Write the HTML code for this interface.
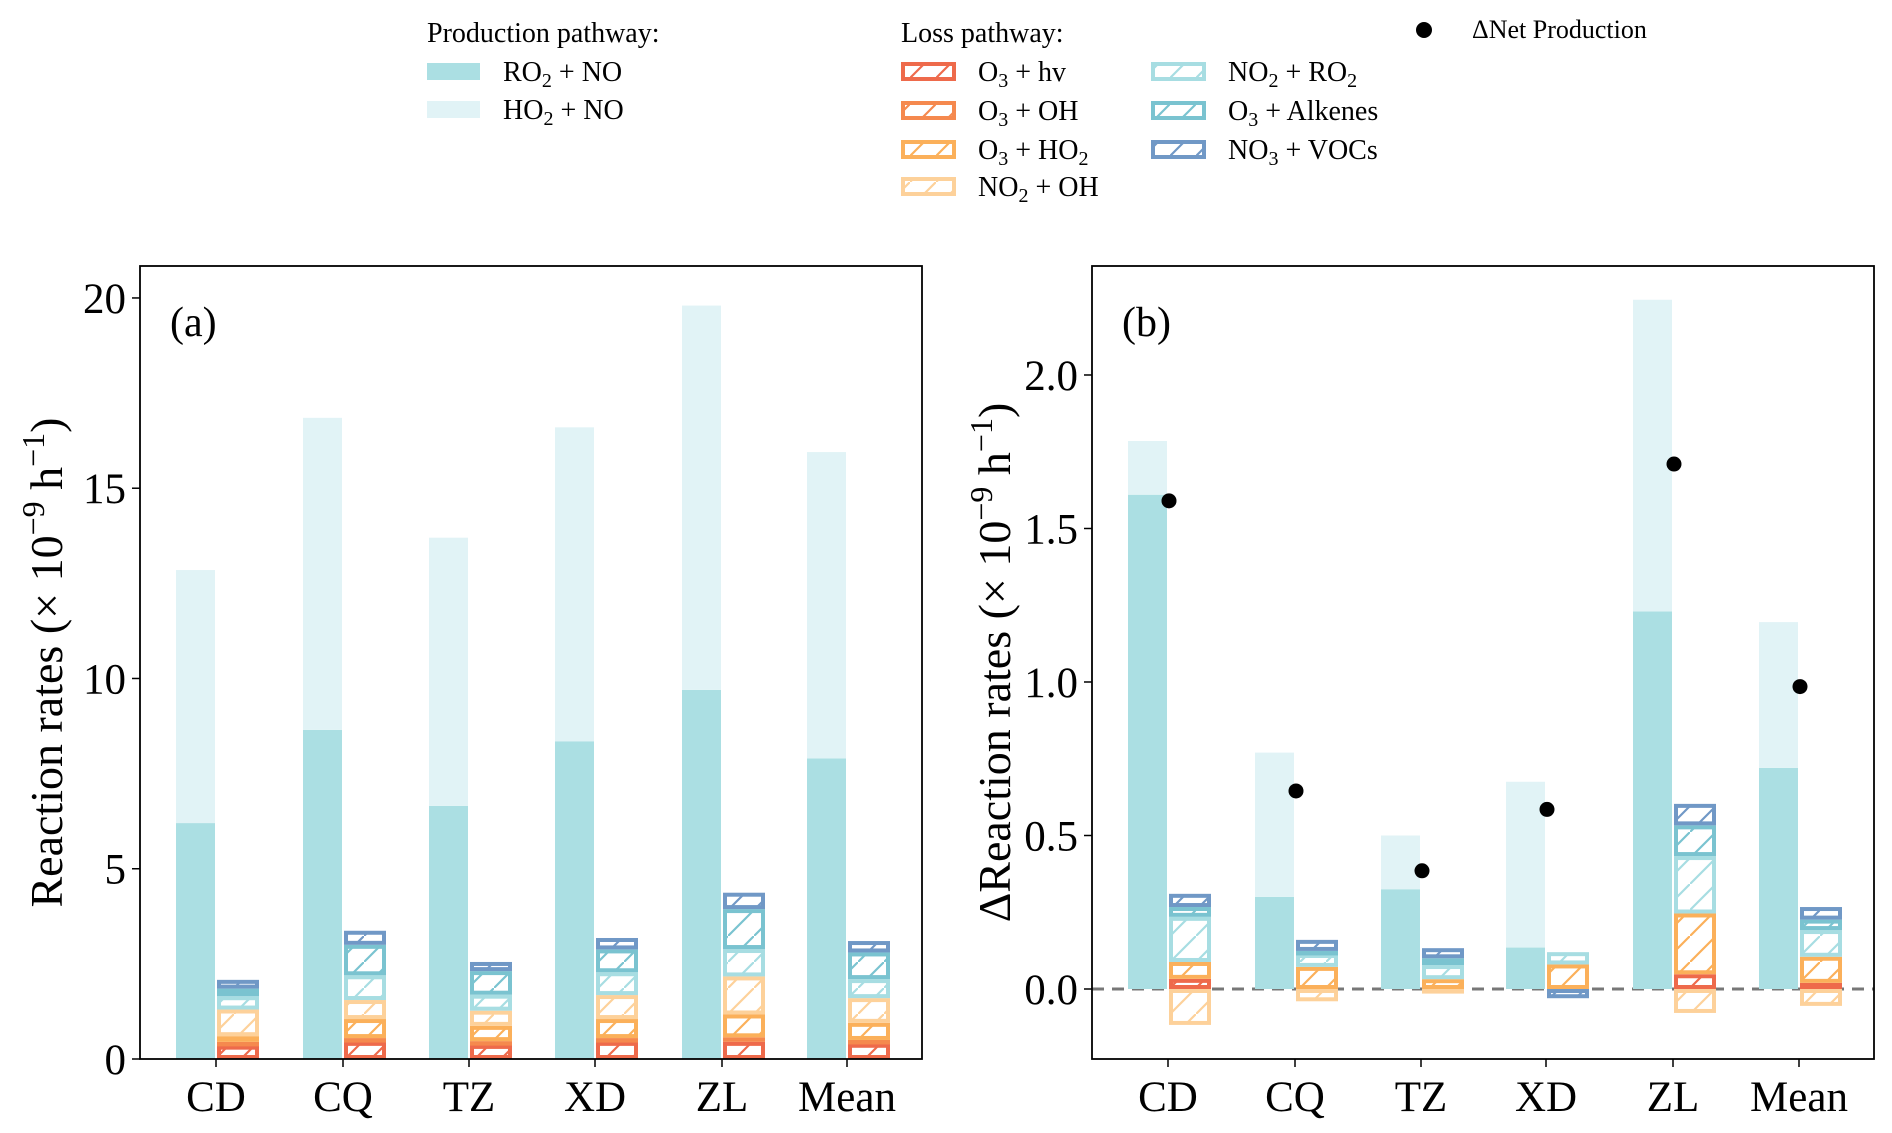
<!DOCTYPE html>
<html><head><meta charset="utf-8"><style>
html,body{margin:0;padding:0;background:#fff}
svg{display:block;font-family:"Liberation Serif",serif}
</style></head><body>
<svg id="chart" width="1892" height="1133" viewBox="0 0 1892 1133" xmlns="http://www.w3.org/2000/svg">
<defs id="defs"></defs>
<g id="legend" font-size="28">
  <text x="427" y="42">Production pathway:</text>
  <rect x="427" y="63" width="53" height="17" fill="#abdfe3"/>
  <text x="503" y="81">RO<tspan font-size="20" dy="6">2</tspan><tspan dy="-6"> + NO</tspan></text>
  <rect x="427" y="101" width="53" height="17" fill="#e1f3f6"/>
  <text x="503" y="119">HO<tspan font-size="20" dy="6">2</tspan><tspan dy="-6"> + NO</tspan></text>
  <text x="901" y="42">Loss pathway:</text>
  <circle cx="1424" cy="30" r="8" fill="#000"/>
  <text x="1472" y="38" font-size="26">ΔNet Production</text>
</g>
<g id="panelA"></g>
<g id="panelB"></g>
</svg>
<script>
const NS='http://www.w3.org/2000/svg';
const sites=['CD','CQ','TZ','XD','ZL','Mean'];
const lossNames=['O3 + hv','O3 + OH','O3 + HO2','NO2 + OH','NO2 + RO2','O3 + Alkenes','NO3 + VOCs'];
const lossColors=['#ee6a4b','#f5894e','#fbb05a','#fdd19a','#a7dde2','#7ac3d0','#7098c6'];
const prodColors=['#abdfe3','#e1f3f6'];
// Panel a
const aRO2=[6.2,8.65,6.65,8.35,9.7,7.9];
const aHO2=[6.65,8.2,7.05,8.25,10.1,8.05];
const aHv=[0.35,0.45,0.37,0.45,0.45,0.4];
const aOH=[0.1,0.1,0.1,0.1,0.12,0.1];
const aHO2loss=[0.15,0.5,0.4,0.5,0.6,0.45];
const aNO2OH=[0.7,0.5,0.4,0.63,1.0,0.65];
const aNO2RO2=[0.35,0.65,0.42,0.6,0.72,0.5];
const aAlk=[0.2,0.8,0.62,0.6,1.05,0.7];
const aVOC=[0.23,0.37,0.24,0.3,0.43,0.3];
const aTicks=[0,5,10,15,20];
const aTickLabels=['0','5','10','15','20'];
// Panel b
const bRO2=[1.61,0.30,0.325,0.135,1.23,0.72];
const bHO2=[0.175,0.47,0.175,0.54,1.015,0.475];
const bHv=[0.033,0,0,0,0.048,0.02];
const bOH=[0,0,0,0,0,0];
const bHO2loss=[0.055,0.072,0.032,0.08,0.198,0.085];
const bNO2OH=[-0.117,-0.04,-0.015,0,-0.078,-0.055];
const bNO2RO2=[0.147,0.042,0.046,0.04,0.187,0.087];
const bAlk=[0.032,0.01,0.022,0,0.10,0.034];
const bVOC=[0.043,0.036,0.033,-0.03,0.07,0.041];
const bNet=[1.59,0.645,0.385,0.585,1.71,0.985];
const bTicks=[0,0.5,1.0,1.5,2.0];
const bTickLabels=['0.0','0.5','1.0','1.5','2.0'];

function el(tag,attrs,parent){const e=document.createElementNS(NS,tag);for(const k in attrs)e.setAttribute(k,attrs[k]);parent.appendChild(e);return e;}
const defs=document.getElementById('defs');
lossColors.forEach((c,i)=>{
  const p=el('pattern',{id:'h'+i,patternUnits:'userSpaceOnUse',width:26,height:26},defs);
  el('rect',{width:26,height:26,fill:'#fff'},p);
  el('line',{x1:-2,y1:28,x2:28,y2:-2,stroke:c,'stroke-width':2.2},p);
});
const leg=document.getElementById('legend');
const legPos=[[901,71],[901,110],[901,149],[901,186],[1151,71],[1151,110],[1151,149]];
const legLabels=[['O','3',' + hv'],['O','3',' + OH'],['O','3',' + HO','2'],['NO','2',' + OH'],['NO','2',' + RO','2'],['O','3',' + Alkenes'],['NO','3',' + VOCs']];
lossNames.forEach((n,i)=>{
  const [x,y]=legPos[i];
  const r=el('rect',{x:x+2,y:y-7,width:51,height:15,fill:'url(#h'+i+')',stroke:lossColors[i],'stroke-width':4},leg);
  
  
  const t=el('text',{x:x+77,y:y+10},leg);
  
  
  const L=legLabels[i];
  el('tspan',{},t).textContent=L[0];
  el('tspan',{'font-size':20,dy:6},t).textContent=L[1];
  el('tspan',{dy:-6},t).textContent=L[2];
  if(L[3]){el('tspan',{'font-size':20,dy:6},t).textContent=L[3];}
});

function panel(g,opt){
  const {left,right,top,bottom,ymin,ymax,centers,ticks,tickLabels,ro2,ho2,losses,net,label,title,titleX,delta}=opt;
  const y=v=>bottom-(v-ymin)/(ymax-ymin)*(bottom-top);
  const x=i=>centers[i];
  if(delta){
    const z=el('line',{x1:left,x2:right,y1:y(0),y2:y(0),stroke:'#777','stroke-width':3,'stroke-dasharray':'12,8'},g);
    
  }
  sites.forEach((s,i)=>{
    const r1=el('rect',{x:x(i)-40,width:39,y:y(ro2[i]),height:y(0)-y(ro2[i]),fill:prodColors[0]},g);
    
    const r2=el('rect',{x:x(i)-40,width:39,y:y(ro2[i]+ho2[i]),height:y(ro2[i])-y(ro2[i]+ho2[i]),fill:prodColors[1]},g);
    
    let pos=0,neg=0;
    losses.forEach((arr,k)=>{
      const v=arr[i]; if(!v) return;
      let a,b; if(v>0){a=pos;b=pos+v;pos=b;}else{a=neg+v;b=neg;neg=a;}
      const h=y(a)-y(b);
      const r=el('rect',{x:x(i)+3,width:38,y:y(b)+2,height:Math.max(h-4,0.5),fill:'url(#h'+k+')',stroke:lossColors[k],'stroke-width':4},g);
      
      
    });
    if(net){
      const c=el('circle',{cx:x(i)+1,cy:y(net[i]),r:7.5,fill:'#000'},g);
      
    }
    const tk=el('line',{x1:x(i),x2:x(i),y1:bottom,y2:bottom+8,stroke:'#000','stroke-width':1.5},g);
    
    const tl=el('text',{x:x(i),y:bottom+52,'text-anchor':'middle','font-size':43},g);
    tl.textContent=s;
    
  });
  ticks.forEach((v,j)=>{
    const tk=el('line',{x1:left-8,x2:left,y1:y(v),y2:y(v),stroke:'#000','stroke-width':1.5},g);
    
    const tl=el('text',{x:left-14,y:y(v)+15,'text-anchor':'end','font-size':43},g);
    tl.textContent=tickLabels[j];
    
  });
  const fr=el('rect',{x:left,y:top,width:right-left,height:bottom-top,fill:'none',stroke:'#000','stroke-width':1.8},g);
  
  const lb=el('text',{x:left+30,y:top+70,'font-size':42},g);
  lb.textContent=label;
  
  const cy=(top+bottom)/2;
  const t=el('text',{x:0,y:0,'text-anchor':'middle','font-size':46,transform:`translate(${titleX},${cy}) rotate(-90)`},g);
  
  el('tspan',{},t).textContent=title+' (× 10';
  el('tspan',{'font-size':32,dy:-18},t).textContent='−9';
  el('tspan',{dy:18},t).textContent=' h';
  el('tspan',{'font-size':32,dy:-18},t).textContent='−1';
  el('tspan',{dy:18},t).textContent=')';
}
panel(document.getElementById('panelA'),{left:140,right:922,top:266,bottom:1059,ymin:0,ymax:20.84,
  centers:[216,343,469,595,722,847],ticks:aTicks,tickLabels:aTickLabels,ro2:aRO2,ho2:aHO2,
  losses:[aHv,aOH,aHO2loss,aNO2OH,aNO2RO2,aAlk,aVOC],net:null,label:'(a)',title:'Reaction rates',titleX:62,delta:false});
panel(document.getElementById('panelB'),{left:1092,right:1874,top:266,bottom:1059,ymin:-0.2280,ymax:2.355,
  centers:[1168,1295,1421,1546,1673,1799],ticks:bTicks,tickLabels:bTickLabels,ro2:bRO2,ho2:bHO2,
  losses:[bHv,bOH,bHO2loss,bNO2OH,bNO2RO2,bAlk,bVOC],net:bNet,label:'(b)',title:'ΔReaction rates',titleX:1010,delta:true});
</script>
</body></html>
